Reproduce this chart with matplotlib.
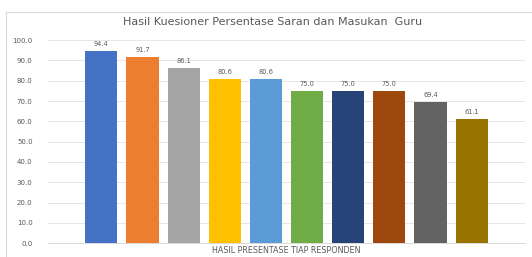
import matplotlib.pyplot as plt
from matplotlib.patches import Rectangle

# Data
responden = ["R1", "R2", "R3", "R4", "R5", "R6", "R7", "R8", "R9", "R10"]
persentase = [94.4, 91.7, 86.1, 80.6, 80.6, 75.0, 75.0, 75.0, 69.4, 61.1]
warna = ["#4472C4", "#ED7D31", "#A5A5A5", "#FFC000", "#5B9BD5",
         "#70AD47", "#264478", "#9E480E", "#636363", "#997300"]
yticks = [0, 10, 20, 30, 40, 50, 60, 70, 80, 90, 100]

fig = plt.figure(figsize=(5.32, 2.57), dpi=100)
fig.patch.set_facecolor("white")

# chart border (Excel chart box)
fig.add_artist(Rectangle((0.012, -0.01), 1.0, 0.963, transform=fig.transFigure,
                         facecolor="none", edgecolor="#d9d9d9", linewidth=0.8))

ax = fig.add_axes([0.09, 0.054, 0.897, 0.79])
x = range(len(persentase))
ax.bar(x, persentase, width=0.78, color=warna)

for xi, v in zip(x, persentase):
    ax.text(xi, v + 2, f"{v:.1f}", ha="center", va="bottom", fontsize=4.8, color="#595959")

ax.set_xlim(-1.3, 10.3)
ax.set_ylim(0, 100)
ax.set_yticks(yticks)
ax.set_yticklabels([f"{t:.1f}" for t in yticks])
ax.set_xticks([])
ax.tick_params(axis="y", length=0, labelsize=5, labelcolor="#595959", pad=11)
ax.grid(axis="y", color="#e6e6e6", linewidth=0.7)
ax.set_axisbelow(True)
for s in ["top", "right", "left"]:
    ax.spines[s].set_visible(False)
ax.spines["bottom"].set_color("#d9d9d9")
ax.spines["bottom"].set_linewidth(0.7)

ax.set_xlabel("HASIL PRESENTASE TIAP RESPONDEN", fontsize=5.8, color="#595959", labelpad=2)
fig.text(0.513, 0.914, "Hasil Kuesioner Persentase Saran dan Masukan  Guru",
         ha="center", va="center", fontsize=8, color="#595959")

plt.savefig("out.png", dpi=100)
